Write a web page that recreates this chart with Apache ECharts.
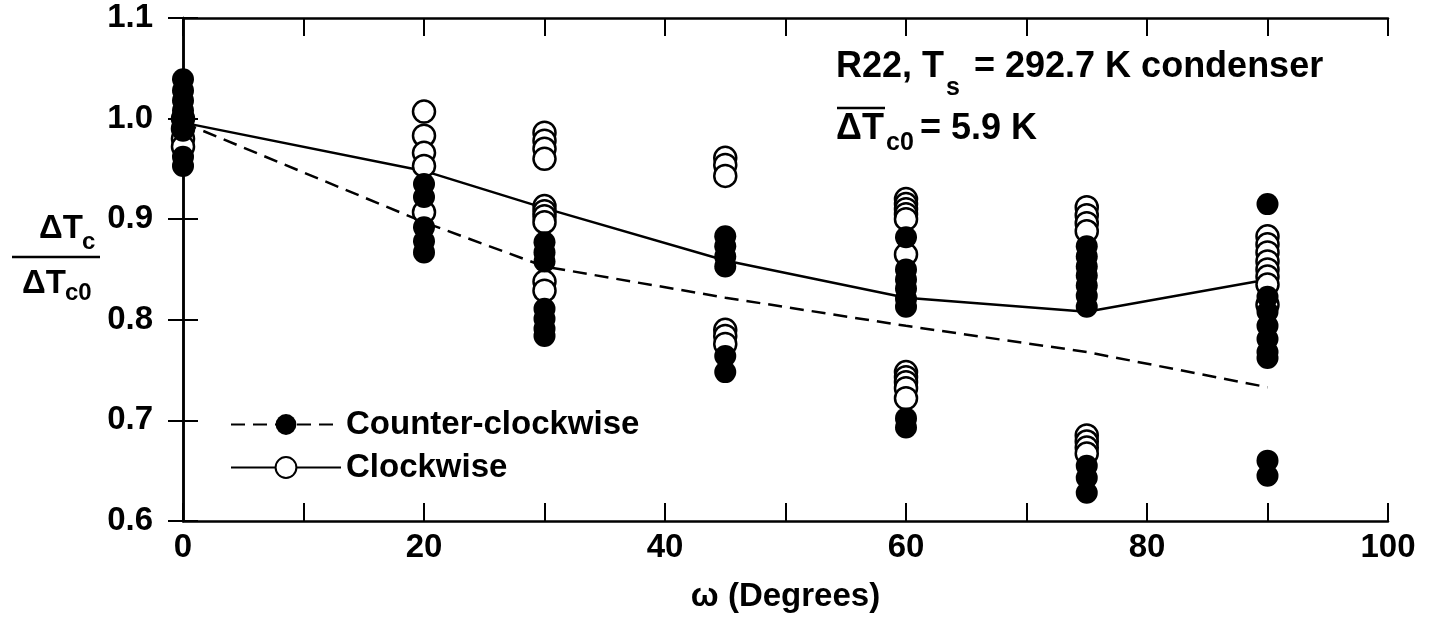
<!DOCTYPE html>
<html>
<head>
<meta charset="utf-8">
<script src="https://cdn.jsdelivr.net/npm/echarts@6/dist/echarts.min.js"></script>
<style>
  html, body { margin: 0; padding: 0; background: #fff; }
  #chart { width: 1429px; height: 618px; }
</style>
</head>
<body>
<div id="chart"></div>
<script>
// angles (degrees) where the measurements were taken
const angles = [0, 20, 30, 45, 60, 75, 90];

// counter-clockwise (filled) points, one list per angle
const ccwPoints = [
  [1.039, 1.028, 1.018, 1.008, 0.998, 0.988, 0.962, 0.953],
  [0.935, 0.922, 0.892, 0.878, 0.867],
  [0.877, 0.867, 0.858, 0.811, 0.801, 0.791, 0.784],
  [0.883, 0.873, 0.863, 0.853, 0.764, 0.748],
  [0.882, 0.850, 0.840, 0.831, 0.821, 0.813, 0.702, 0.693],
  [0.873, 0.863, 0.853, 0.844, 0.834, 0.824, 0.813, 0.655, 0.643, 0.628],
  [0.915, 0.823, 0.808, 0.794, 0.781, 0.768, 0.762, 0.660, 0.645]
];

// clockwise (open) points, one list per angle
const cwPoints = [
  [1.000, 0.990, 0.980, 0.972],
  [1.007, 0.983, 0.966, 0.953, 0.907],
  [0.986, 0.978, 0.970, 0.960, 0.913, 0.908, 0.903, 0.897, 0.838, 0.829],
  [0.961, 0.954, 0.943, 0.790, 0.784, 0.776],
  [0.920, 0.915, 0.910, 0.905, 0.900, 0.865, 0.748, 0.743, 0.738, 0.732, 0.722],
  [0.912, 0.904, 0.896, 0.888, 0.685, 0.679, 0.673, 0.667],
  [0.883, 0.875, 0.867, 0.858, 0.850, 0.843, 0.835, 0.815]
];

// mean curves
const ccwMean = [0.996, 0.897, 0.853, 0.822, 0.794, 0.768, 0.733];
const cwMean = [0.996, 0.948, 0.911, 0.859, 0.822, 0.808, 0.840];

const xTicks = [0, 20, 40, 60, 80, 100];

function toPairs(lists) {
  let out = [];
  lists.forEach((vals, i) => {
    vals.forEach(v => out.push([angles[i], v]));
  });
  return out;
}

const FONT = 'Liberation Sans';
const black = '#000';

let chart = echarts.init(document.getElementById('chart'));

let axisLine = { lineStyle: { color: black, width: 2.5 } };
let tick = { inside: true, length: 18, lineStyle: { color: black, width: 2 } };

let option = {
  animation: false,
  backgroundColor: '#fff',
  grid: { left: 183, right: 41, top: 18, bottom: 95 },
  xAxis: [
    {
      type: 'value', min: 0, max: 100, interval: 10, position: 'bottom',
      axisLine: axisLine, axisTick: tick, splitLine: { show: false },
      axisLabel: {
        color: black, fontSize: 33, fontWeight: 'bold', fontFamily: FONT, margin: 10,
        formatter: v => (xTicks.indexOf(v) >= 0 ? String(v) : '')
      },
      name: 'ω (Degrees)', nameLocation: 'middle', nameGap: 59,
      nameTextStyle: { color: black, fontSize: 33, fontWeight: 'bold', fontFamily: FONT }
    },
    {
      type: 'value', min: 0, max: 100, interval: 10, position: 'top',
      axisLine: axisLine, axisTick: tick, axisLabel: { show: false }, splitLine: { show: false }
    }
  ],
  yAxis: [
    {
      type: 'value', min: 0.6, max: 1.1, interval: 0.1, position: 'left',
      axisLine: axisLine, axisTick: { inside: true, length: 15, lineStyle: { color: black, width: 2 } },
      splitLine: { show: false },
      axisLabel: {
        color: black, fontSize: 33, fontWeight: 'bold', fontFamily: FONT, margin: 30,
        formatter: v => v.toFixed(1)
      }
    },
    {
      type: 'value', min: 0.6, max: 1.1, interval: 0.1, position: 'right',
      axisLine: axisLine, axisTick: { inside: true, length: 15, lineStyle: { color: black, width: 2 } },
      axisLabel: { show: false }, splitLine: { show: false }
    }
  ],
  legend: {
    data: ['Counter-clockwise', 'Clockwise'],
    orient: 'vertical',
    left: 225, top: 403,
    itemWidth: 110, itemHeight: 26, itemGap: 10,
    textStyle: { color: black, fontSize: 33, fontWeight: 'bold', fontFamily: FONT }
  },
  series: [
    {
      name: 'Counter-clockwise',
      type: 'line',
      data: angles.map((a, i) => [a, ccwMean[i]]),
      symbol: 'none',
      z: 2,
      lineStyle: { color: black, width: 2.5, type: [14, 8] },
      itemStyle: { color: black }
    },
    {
      name: 'Clockwise',
      type: 'line',
      data: angles.map((a, i) => [a, cwMean[i]]),
      symbol: 'none',
      z: 2,
      lineStyle: { color: black, width: 2.5 },
      itemStyle: { color: '#fff', borderColor: black, borderWidth: 2.5 }
    },
    {
      name: 'cw-points',
      type: 'scatter',
      data: toPairs(cwPoints),
      symbol: 'circle',
      symbolSize: 22,
      z: 3,
      itemStyle: { color: '#fff', borderColor: black, borderWidth: 2.5, opacity: 1 }
    },
    {
      name: 'ccw-points',
      type: 'scatter',
      data: toPairs(ccwPoints),
      symbol: 'circle',
      symbolSize: 22,
      z: 4,
      itemStyle: { color: black, opacity: 1 }
    }
  ],
  graphic: [
    // y axis label: ΔTc / ΔTc0
    { type: 'text', left: 39, top: 212, style: { text: 'ΔT', font: 'bold 33px ' + FONT, fill: black } },
    { type: 'text', left: 82, top: 230, style: { text: 'c', font: 'bold 24px ' + FONT, fill: black } },
    { type: 'line', shape: { x1: 12, y1: 257, x2: 100, y2: 257 }, style: { stroke: black, lineWidth: 2.5 } },
    { type: 'text', left: 22, top: 267, style: { text: 'ΔT', font: 'bold 33px ' + FONT, fill: black } },
    { type: 'text', left: 65, top: 281, style: { text: 'c0', font: 'bold 24px ' + FONT, fill: black } },
    // annotation
    { type: 'text', left: 836, top: 49, style: { text: 'R22, T', font: 'bold 36px ' + FONT, fill: black } },
    { type: 'text', left: 946, top: 76, style: { text: 's', font: 'bold 25px ' + FONT, fill: black } },
    { type: 'text', left: 974, top: 49, style: { text: '= 292.7 K condenser', font: 'bold 36px ' + FONT, fill: black } },
    { type: 'line', shape: { x1: 837, y1: 108, x2: 885, y2: 108 }, style: { stroke: black, lineWidth: 2.5 } },
    { type: 'text', left: 836, top: 111, style: { text: 'ΔT', font: 'bold 36px ' + FONT, fill: black } },
    { type: 'text', left: 886, top: 131, style: { text: 'c0', font: 'bold 25px ' + FONT, fill: black } },
    { type: 'text', left: 920, top: 111, style: { text: '= 5.9 K', font: 'bold 36px ' + FONT, fill: black } }
  ]
};

chart.setOption(option);
</script>
</body>
</html>
